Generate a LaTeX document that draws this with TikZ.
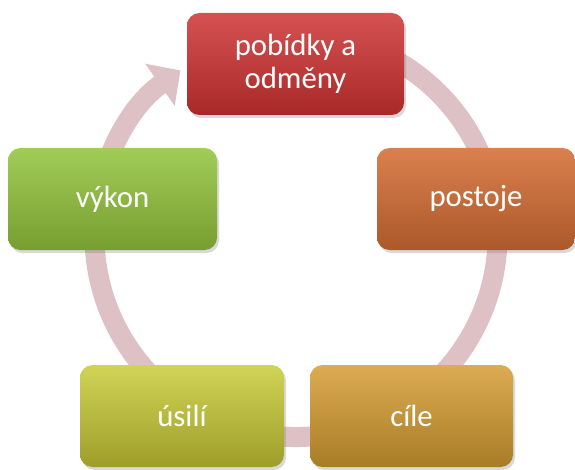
\documentclass[tikz,border=0pt]{standalone}
\usepackage{fontspec}
\setmainfont{Carlito}
\usepackage{tikz}
\usetikzlibrary{
    arrows.meta,
    shadows
}

\definecolor{ringpink}{RGB}{222,193,197}
\definecolor{redtop}{RGB}{214,82,82}
\definecolor{redbot}{RGB}{168,40,40}
\definecolor{orangetop}{RGB}{218,128,78}
\definecolor{orangebot}{RGB}{172,88,42}
\definecolor{goldtop}{RGB}{220,172,82}
\definecolor{goldbot}{RGB}{168,124,38}
\definecolor{olivetop}{RGB}{208,212,86}
\definecolor{olivebot}{RGB}{158,158,42}
\definecolor{greentop}{RGB}{162,204,88}
\definecolor{greenbot}{RGB}{118,158,48}

\begin{document}
\begin{tikzpicture}[
    cyclebox/.style={rounded corners=0.25cm, minimum height=2.04cm,
        inner sep=0pt, align=center, text=white,
        font=\fontsize{17.5}{18.5}\selectfont,
        drop shadow={opacity=0.3, shadow xshift=0.04cm, shadow yshift=-0.06cm}},
    ring/.style={ringpink, line width=0.4cm,
        -{Triangle[width=1cm, length=0.5cm]}}
]

\useasboundingbox (0,0) rectangle (11.5,9.38);

% Ring behind the boxes
\coordinate (ctr) at (5.92,4.67);
\draw[ring] (ctr) ++(60:4.03) arc[start angle=60, end angle=-235, radius=4.03];

% Boxes
\node[cyclebox, minimum width=4.34cm, top color=redtop, bottom color=redbot]
    (incent) at (5.91,8.10) {pobídky a\\odměny};
\node[cyclebox, minimum width=3.96cm, top color=orangetop, bottom color=orangebot]
    (attit) at (9.52,5.40) {postoje};
\node[cyclebox, minimum width=4.06cm, top color=goldtop, bottom color=goldbot]
    (goals) at (8.23,1.06) {cíle};
\node[cyclebox, minimum width=4.08cm, top color=olivetop, bottom color=olivebot]
    (effort) at (3.64,1.06) {úsilí};
\node[cyclebox, minimum width=4.18cm, top color=greentop, bottom color=greenbot]
    (perf) at (2.25,5.40) {výkon};

\end{tikzpicture}
\end{document}
